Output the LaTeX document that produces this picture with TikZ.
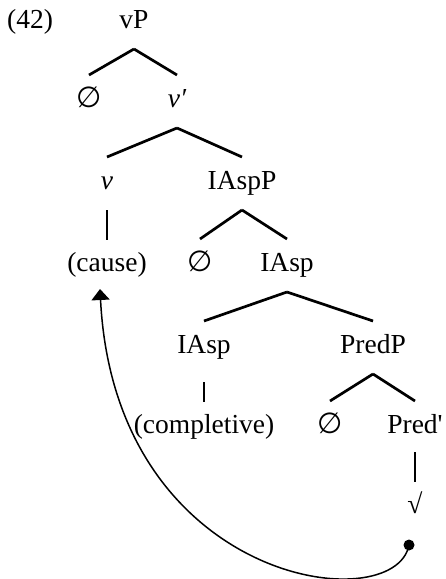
\documentclass[tikz,border=0pt]{standalone}
\usepackage{fontspec}
\setmainfont{Liberation Serif}[Ligatures=TeXOff]
\newfontfamily\emptysetfont{DejaVu Sans}
\usetikzlibrary{arrows.meta}
\newcommand{\emptycat}{{\emptysetfont\fontsize{29}{32}\selectfont ∅}}
\begin{document}
\begin{tikzpicture}[x=1pt,y=-1pt,
  lbl/.style={anchor=base,inner sep=0pt,font=\fontsize{27.5}{30}\selectfont},
  branch/.style={line width=2.7pt},
  movement/.style={line width=1.5pt,-{Triangle[length=11pt,width=18pt]}},
  trace/.style={circle,fill=black,inner sep=0pt,minimum size=11pt}]
\useasboundingbox (0,0) rectangle (445,579);

% example number
\node[lbl,anchor=base west] (ex) at (7,28) {(42)};

% tree labels
\node[lbl] (vP)     at (134,28)  {vP};
\node[lbl] (e1)     at (89,107)  {\emptycat};
\node[lbl] (vbar)   at (177,107) {\itshape v′};
\node[lbl] (v)      at (107,189) {\itshape v};
\node[lbl] (IAspP)  at (242,189) {IAspP};
\node[lbl] (cause)  at (107,271) {(cause)};
\node[lbl] (e2)     at (200,271) {\emptycat};
\node[lbl] (IAspb)  at (287,271) {IAsp};
\node[lbl] (IAsp)   at (204,353) {IAsp};
\node[lbl] (PredP)  at (373,353) {PredP};
\node[lbl] (compl)  at (204,433) {(completive)};
\node[lbl] (e3)     at (330,433) {\emptycat};
\node[lbl] (Predb)  at (415,433) {Pred'};
\node[lbl] (root)   at (415,513) {√};
\node[trace] (t)    at (409,545) {};

% branching edges
\foreach \p/\c in {vP/e1, vP/vbar, vbar/v, vbar/IAspP, IAspP/e2, IAspP/IAspb,
                   IAspb/IAsp, IAspb/PredP, PredP/e3, PredP/Predb}
  \draw[branch] ([yshift=-21pt]\p.base) -- ([yshift=32pt]\c.base);

% non-branching edges
\draw[branch] ([yshift=-21pt]v.base) -- ([yshift=31pt]cause.base);
\draw[branch] ([yshift=-29pt]IAsp.base) -- ([yshift=31pt]compl.base);
\draw[branch] ([yshift=-19pt]Predb.base) -- ([yshift=31pt]root.base);

% head movement of the root to (cause)
\draw[movement] (t.center) .. controls (395,620) and (115,585) .. ([xshift=-7pt,yshift=-18pt]cause.base);
\end{tikzpicture}
\end{document}
